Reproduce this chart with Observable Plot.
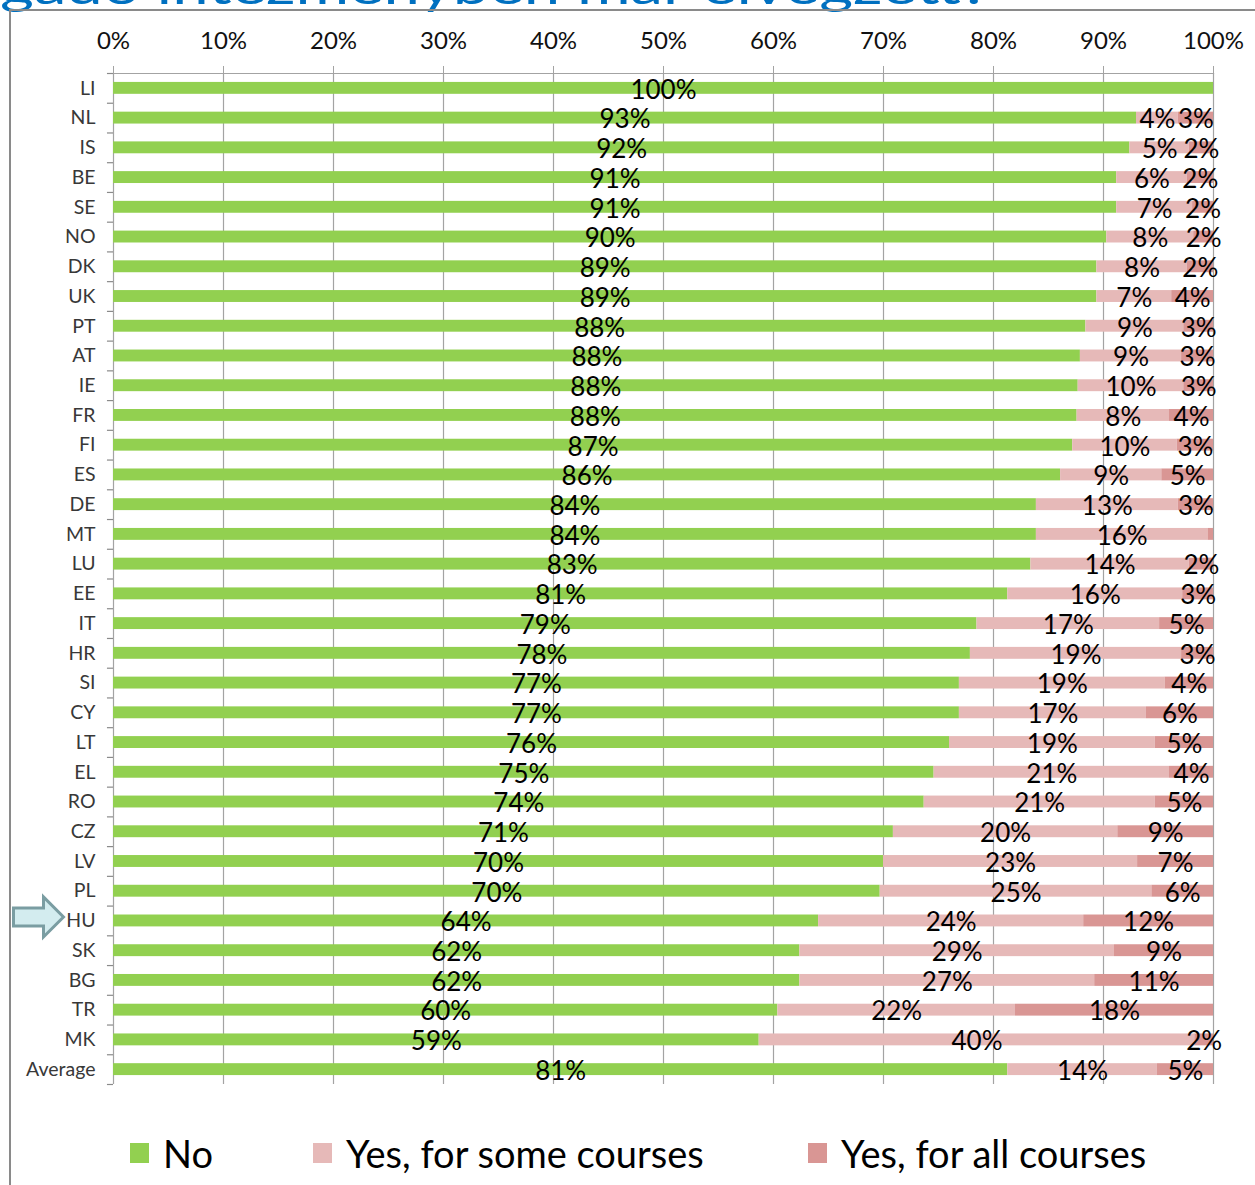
<!DOCTYPE html>
<html>
<head>
<meta charset="utf-8">
<script src="https://cdn.jsdelivr.net/npm/d3@7"></script>
<script src="https://cdn.jsdelivr.net/npm/@observablehq/plot@0.6"></script>
<style>
  html, body { margin: 0; padding: 0; background: #fff; }
  #wrap { position: relative; width: 1255px; height: 1185px; overflow: hidden; background: #fff; font-family: Lato, "Open Sans", sans-serif; }
  #title { position: absolute; left: 0; top: 0; }
  .frameTop { position: absolute; left: 9px; top: 9px; width: 1246px; height: 2px; background: #8a8a8a; }
  .frameLeft { position: absolute; left: 9px; top: 9px; width: 2px; height: 1176px; background: #8a8a8a; }
  #chart { position: absolute; left: 0; top: 0; }
  #legend { position: absolute; left: 0; top: 1130px; width: 1255px; height: 46px; }
  .li { position: absolute; top: 0; height: 46px; display: flex; align-items: center; font-size: 38px; color: #000; white-space: nowrap; }
  .sw { display: inline-block; width: 19px; height: 20px; margin-right: 14px; }
</style>
</head>
<body>
<div id="wrap">
  <svg id="title" width="1255" height="20">
    <text x="0" y="4" font-size="46" fill="#0070c0" font-family="Lato, 'Open Sans', sans-serif" textLength="990" lengthAdjust="spacingAndGlyphs">gadó intézményben már elvégzett?</text>
  </svg>
  <div class="frameTop"></div>
  <div class="frameLeft"></div>
  <div id="chart"></div>
  <div id="legend"></div>
</div>
<script>
// ---- data ----
const countries = ["LI","NL","IS","BE","SE","NO","DK","UK","PT","AT","IE","FR","FI","ES","DE","MT","LU","EE","IT","HR","SI","CY","LT","EL","RO","CZ","LV","PL","HU","SK","BG","TR","MK","Average"];
const series = ["No", "Yes, for some courses", "Yes, for all courses"];
const colors = ["#92d050", "#e6b9b8", "#d99694"];
const noValues   = [100, 93.0, 92.4, 91.2, 91.2, 90.3, 89.4, 89.4, 88.4, 87.9, 87.7, 87.6, 87.2, 86.1, 83.9, 83.9, 83.4, 81.3, 78.5, 77.9, 76.9, 76.9, 76.0, 74.6, 73.7, 70.9, 70.0, 69.7, 64.1, 62.4, 62.4, 60.4, 58.7, 81.3];
const someValues = [0, 3.8, 5.4, 6.4, 6.9, 7.9, 8.2, 6.8, 8.9, 9.2, 9.6, 8.4, 9.5, 9.2, 12.9, 15.6, 14.4, 15.9, 16.6, 19.2, 18.7, 17.0, 18.7, 21.4, 21.0, 20.4, 23.1, 24.7, 24.1, 28.6, 26.8, 21.6, 39.6, 13.6];
const allValues  = [0, 3.2, 2.2, 2.4, 1.9, 1.8, 2.4, 3.8, 2.7, 2.9, 2.7, 4.0, 3.3, 4.7, 3.2, 0.5, 2.2, 2.8, 4.9, 2.9, 4.4, 6.1, 5.3, 4.0, 5.3, 8.7, 6.9, 5.6, 11.8, 9.0, 10.8, 18.0, 1.7, 5.1];
const xTicks = [0, 10, 20, 30, 40, 50, 60, 70, 80, 90, 100];
const highlighted = ["HU"];

// long table for the library
const seriesValues = [noValues, someValues, allValues];
const rows = [];
countries.forEach((c, i) => {
  series.forEach((s, j) => rows.push({country: c, series: s, value: seriesValues[j][i]}));
});

// geometry
const W = 1255, H = 1100, mTop = 73, mBottom = 16, mLeft = 113, mRight = 42;
const step = (H - mTop - mBottom) / countries.length;

// custom block-arrow symbol
const arrowSymbol = {
  draw(ctx) {
    ctx.moveTo(-25, -9);
    ctx.lineTo(5, -9);
    ctx.lineTo(5, -20);
    ctx.lineTo(25, 0);
    ctx.lineTo(5, 20);
    ctx.lineTo(5, 9);
    ctx.lineTo(-25, 9);
    ctx.closePath();
  }
};

const chart = Plot.plot({
  width: W,
  height: H,
  marginTop: mTop,
  marginBottom: mBottom,
  marginLeft: mLeft,
  marginRight: mRight,
  style: {fontFamily: "Lato, 'Open Sans', sans-serif", background: "transparent", overflow: "visible"},
  x: {domain: [0, 100]},
  y: {domain: countries, paddingInner: 0.6, paddingOuter: 0.3, round: false},
  color: {domain: series, range: colors},
  marks: [
    Plot.ruleX(xTicks, {stroke: "#a3a3a3", strokeWidth: 1.2}),
    Plot.frame({anchor: "top", stroke: "#a3a3a3", strokeWidth: 1.2}),
    Plot.axisX(xTicks, {
      anchor: "top", tickSize: 8, tickPadding: 17, stroke: "#a3a3a3",
      tickFormat: d => d + "%", fontSize: 24, fill: "#111", label: null
    }),
    Plot.ruleY(countries, {y: d => d, x1: 0, x2: -0.55, dy: step / 2, stroke: "#8a8a8a", strokeWidth: 1.2}),
    Plot.ruleY(countries.slice(0, 1), {y: d => d, x1: 0, x2: -0.55, dy: -step / 2, stroke: "#8a8a8a", strokeWidth: 1.2}),
    Plot.axisY({tickSize: 0, tickPadding: 18, fontSize: 19.5, fill: "#383838", label: null}),
    Plot.barX(rows, Plot.stackX({x: "value", y: "country", fill: "series"})),
    Plot.text(rows, Plot.stackX({
      x: "value", y: "country", z: "series",
      text: d => d.value >= 1 ? Math.round(d.value) + "%" : "",
      fontSize: 26, fill: "#000", dy: 2
    })),
    Plot.dot(highlighted, {
      x: () => 0, y: d => d, dx: -75, dy: -4,
      symbol: arrowSymbol, fill: "#d3ecef", stroke: "#7a9da2", strokeWidth: 3
    })
  ]
});
document.getElementById("chart").appendChild(chart);

// legend
const legendX = [130, 313, 808];
const legend = document.getElementById("legend");
series.forEach((s, i) => {
  const item = document.createElement("div");
  item.className = "li";
  item.style.left = legendX[i] + "px";
  const sw = document.createElement("span");
  sw.className = "sw";
  sw.style.background = colors[i];
  item.appendChild(sw);
  item.appendChild(document.createTextNode(s));
  legend.appendChild(item);
});
</script>
</body>
</html>
